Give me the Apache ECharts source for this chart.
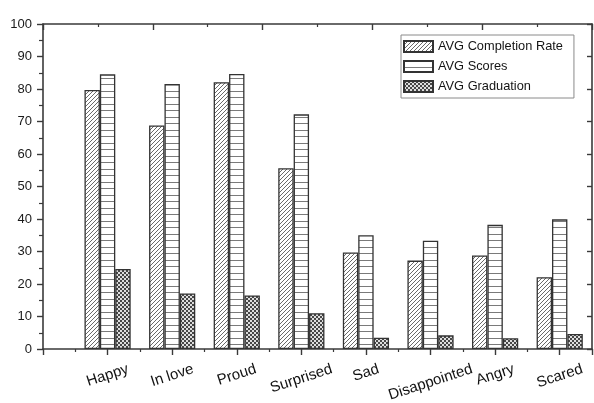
<!DOCTYPE html>
<html>
<head>
<meta charset="utf-8">
<script src="https://cdn.jsdelivr.net/npm/echarts@6/dist/echarts.min.js"></script>
<style>
  html, body { margin: 0; padding: 0; background: #fff; }
  #chart { width: 594px; height: 403px; }
</style>
</head>
<body>
<div id="chart"></div>
<script>
// Emotion categories and the three averaged measures per category
const categories = ['Happy', 'In love', 'Proud', 'Surprised', 'Sad', 'Disappointed', 'Angry', 'Scared'];
const completionRate = [79.7, 68.8, 82.1, 55.6, 29.7, 27.2, 28.8, 22.1];
const scores = [84.5, 81.5, 84.6, 72.2, 35.0, 33.3, 38.2, 39.9];
const graduation = [24.6, 17.1, 16.5, 11.0, 3.5, 4.2, 3.3, 4.6];
const seriesNames = ['AVG Completion Rate', 'AVG Scores', 'AVG Graduation'];
const yTickValues = [0, 10, 20, 30, 40, 50, 60, 70, 80, 90, 100];

// --- fill patterns (small canvas tiles repeated over each bar) ---
function tile(w, h, draw) {
  const c = document.createElement('canvas');
  c.width = w; c.height = h;
  const ctx = c.getContext('2d');
  ctx.fillStyle = '#ffffff';
  ctx.fillRect(0, 0, w, h);
  draw(ctx);
  return { image: c, repeat: 'repeat' };
}
const diagonalHatch = tile(4, 4, ctx => {
  ctx.strokeStyle = '#6a6a6a';
  ctx.lineWidth = 1;
  ctx.beginPath();
  ctx.moveTo(-1, 5); ctx.lineTo(5, -1);
  ctx.moveTo(-1, 1); ctx.lineTo(1, -1);
  ctx.moveTo(3, 5); ctx.lineTo(5, 3);
  ctx.stroke();
});
const horizontalLines = tile(4, 13, ctx => {
  ctx.fillStyle = '#7a7a7a';
  ctx.fillRect(0, 0, 4, 1);
  ctx.fillRect(0, 6, 4, 1);
});
const checker = tile(4, 4, ctx => {
  ctx.fillStyle = '#dedede';
  ctx.fillRect(0, 0, 4, 4);
  ctx.fillStyle = '#474747';
  ctx.fillRect(0, 0, 2, 2);
  ctx.fillRect(2, 2, 2, 2);
});

const fills = [diagonalHatch, horizontalLines, checker];
const values = [completionRate, scores, graduation];

const AXIS_COLOR = '#3a3a3a';
const AXIS_WIDTH = 1.6;
const axisLine = { show: true, onZero: false, lineStyle: { color: AXIS_COLOR, width: AXIS_WIDTH } };

const chart = echarts.init(document.getElementById('chart'), null, { renderer: 'canvas' });

const option = {
  animation: false,
  backgroundColor: '#ffffff',
  grid: { left: 43, right: 2, top: 24, bottom: 54 },
  legend: {
    orient: 'vertical',
    left: 401,
    top: 35,
    padding: [5, 11, 5, 2],
    itemWidth: 29,
    itemHeight: 11,
    itemGap: 7,
    borderColor: '#8a8a8a',
    borderWidth: 1,
    icon: 'rect',
    textStyle: { fontFamily: 'Liberation Sans, Arial, sans-serif', fontSize: 12.8, color: '#141414' },
    data: seriesNames
  },
  xAxis: [
    {
      type: 'value', position: 'bottom', min: 0, max: 8.5, interval: 1,
      axisLine: axisLine,
      axisTick: { show: true, inside: false, length: 6, lineStyle: { color: AXIS_COLOR, width: 1.4 } },
      minorTick: { show: true, splitNumber: 2, length: 3, lineStyle: { color: AXIS_COLOR, width: 1.2 } },
      axisLabel: { show: false },
      splitLine: { show: false }
    },
    {
      type: 'value', position: 'top', min: 0, max: 5, interval: 1,
      axisLine: axisLine,
      axisTick: { show: true, inside: true, length: 6, lineStyle: { color: AXIS_COLOR, width: 1.4 } },
      minorTick: { show: true, splitNumber: 2, length: 3, lineStyle: { color: AXIS_COLOR, width: 1.2 } },
      axisLabel: { show: false },
      splitLine: { show: false }
    }
  ],
  yAxis: [
    {
      type: 'value', position: 'left', min: 0, max: 100, interval: 10,
      axisLine: axisLine,
      axisTick: { show: true, inside: false, length: 6, lineStyle: { color: AXIS_COLOR, width: 1.4 } },
      minorTick: { show: true, splitNumber: 2, length: 4, lineStyle: { color: AXIS_COLOR, width: 1.2 } },
      axisLabel: {
        margin: 11,
        fontFamily: 'Liberation Sans, Arial, sans-serif', fontSize: 13, color: '#1a1a1a',
        formatter: v => (yTickValues.indexOf(v) >= 0 ? String(v) : '')
      },
      splitLine: { show: false }
    },
    {
      type: 'value', position: 'right', min: 0, max: 100, interval: 10,
      axisLine: axisLine,
      axisTick: { show: true, inside: true, length: 5, lineStyle: { color: AXIS_COLOR, width: 1.4 } },
      axisLabel: { show: false },
      splitLine: { show: false }
    }
  ],
  series: seriesNames.map((name, s) => ({
    name: name,
    type: 'bar',
    xAxisIndex: 0,
    yAxisIndex: 0,
    barWidth: 15.4,
    barGap: '0%',
    itemStyle: { color: fills[s], borderColor: '#333333', borderWidth: 1.3 },
    emphasis: { disabled: true },
    data: values[s].map((v, i) => [i + 1, v])
  }))
};

chart.setOption(option);

// Rotated category names under each major tick of the bottom axis
const LABEL_FONT_SIZE = 15;
const LABEL_FONT = LABEL_FONT_SIZE + 'px "Liberation Sans", Arial, sans-serif';
const LABEL_ANGLE = 18 * Math.PI / 180;
const measureCtx = document.createElement('canvas').getContext('2d');
measureCtx.font = LABEL_FONT;
const axisY = chart.convertToPixel({ yAxisIndex: 0 }, 0);

const labelGraphics = categories.map((name, i) => {
  const x = chart.convertToPixel({ xAxisIndex: 0 }, i + 1);
  const w = measureCtx.measureText(name).width;
  const h = LABEL_FONT_SIZE * 0.95;
  const extent = w * Math.sin(LABEL_ANGLE) + h * Math.cos(LABEL_ANGLE);
  return {
    type: 'text',
    x: x,
    y: axisY + 13 + extent / 2,
    rotation: LABEL_ANGLE,
    silent: true,
    style: {
      text: name,
      fontFamily: '"Liberation Sans", Arial, sans-serif',
      fontSize: LABEL_FONT_SIZE,
      fill: '#111111',
      align: 'center',
      verticalAlign: 'middle'
    }
  };
});
chart.setOption({ graphic: labelGraphics });
</script>
</body>
</html>
